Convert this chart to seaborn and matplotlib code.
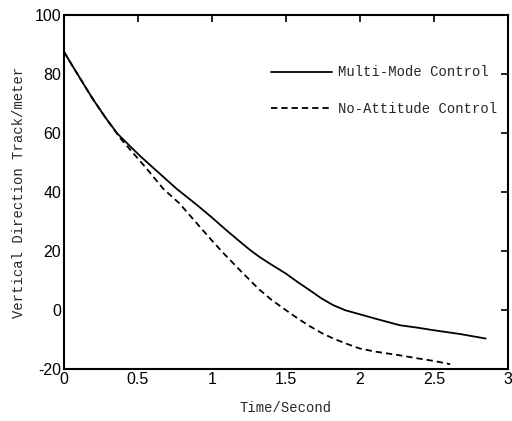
import pandas as pd
import matplotlib
matplotlib.use("Agg")
import matplotlib.pyplot as plt
import seaborn as sns

# Значения
t_multi = [0.0, 0.05, 0.1, 0.15, 0.2, 0.28, 0.36, 0.45, 0.52, 0.6, 0.68, 0.76, 0.9,
           1.0, 1.1, 1.19, 1.26, 1.32, 1.4, 1.5, 1.58, 1.66, 1.74, 1.82, 1.9,
           2.0, 2.1, 2.27, 2.4, 2.5, 2.68, 2.85]
y_multi = [87.6, 83.4, 79.3, 75.2, 71.2, 65.3, 59.9, 55.4, 52.0, 48.4, 44.8, 41.2, 35.6,
           31.4, 27.0, 23.2, 20.3, 18.1, 15.5, 12.4, 9.5, 6.8, 4.0, 1.7, 0.0,
           -1.4, -2.8, -5.1, -6.0, -6.8, -8.1, -9.6]

t_noatt = [0.0, 0.05, 0.1, 0.15, 0.2, 0.28, 0.38, 0.47, 0.55, 0.67, 0.78, 0.9, 1.0,
           1.08, 1.2, 1.32, 1.4, 1.5, 1.58, 1.66, 1.74, 1.82, 1.9, 2.0, 2.1,
           2.27, 2.4, 2.5, 2.61]
y_noatt = [87.6, 83.4, 79.3, 75.2, 71.2, 65.3, 58.3, 53.1, 48.5, 41.2, 36.2, 29.3, 23.6,
           19.2, 13.0, 7.0, 3.6, 0.0, -2.8, -5.4, -7.7, -9.6, -11.2, -13.0, -14.0,
           -15.3, -16.4, -17.2, -18.3]

x_ticks = [0, 0.5, 1, 1.5, 2, 2.5, 3]
x_tick_labels = ["0", "0.5", "1", "1.5", "2", "2.5", "3"]
y_ticks = [-20, 0, 20, 40, 60, 80, 100]

sns.set_theme(style="white")
plt.rcParams['font.family'] = ['Liberation Sans', 'DejaVu Sans']
plt.rcParams['axes.unicode_minus'] = False
mono = ['Liberation Mono', 'DejaVu Sans Mono']

df_multi = pd.DataFrame({'t': t_multi, 'y': y_multi})
df_noatt = pd.DataFrame({'t': t_noatt, 'y': y_noatt})

fig = plt.figure(figsize=(5.12, 4.21), dpi=100)
ax = fig.add_axes([0.125, 0.123, 0.867, 0.841])

sns.lineplot(data=df_multi, x='t', y='y', ax=ax, color='black', lw=1.3,
             label='Multi-Mode Control', sort=False)
sns.lineplot(data=df_noatt, x='t', y='y', ax=ax, color='black', lw=1.3,
             linestyle=(0, (3.5, 2.2)), label='No-Attitude Control', sort=False)

ax.set_xlim(0, 3)
ax.set_ylim(-20, 100)
ax.set_xticks(x_ticks)
ax.set_xticklabels(x_tick_labels)
ax.set_yticks(y_ticks)
ax.tick_params(direction='in', length=5, width=1.2, top=True, right=True,
               labelsize=11.5, colors='black', pad=2)
for s in ax.spines.values():
    s.set_visible(True)
    s.set_color('black')
    s.set_linewidth(1.5)

ax.set_xlabel("Time/Second", family=mono, fontsize=10, labelpad=10)
ax.set_ylabel("Vertical Direction Track/meter", family=mono, fontsize=10, labelpad=6)

leg = ax.legend(loc='upper left', bbox_to_anchor=(0.466, 0.858), frameon=False,
                borderpad=0, borderaxespad=0, handlelength=4.4, handletextpad=0.4,
                labelspacing=1.65, prop={'family': mono, 'size': 10})

fig.savefig("out.png", dpi=100)
